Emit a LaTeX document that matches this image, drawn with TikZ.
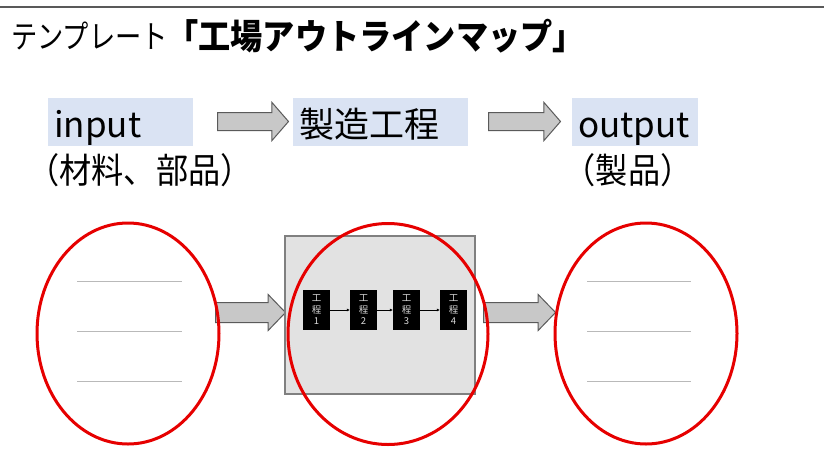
\documentclass[tikz,border=0pt]{standalone}
\usepackage{fontspec}
\setmainfont{Noto Sans CJK JP}
\usetikzlibrary{shapes.geometric,shapes.arrows,arrows.meta,positioning}
\definecolor{azulclaro}{HTML}{DAE3F3}
\definecolor{rojo}{HTML}{E60000}
\definecolor{grisflecha}{HTML}{C8C8C8}
\definecolor{grisborde}{HTML}{5A5A5A}
\definecolor{grisfondo}{HTML}{E2E2E2}
\tikzset{
  etiqueta/.style={fill=azulclaro, anchor=north west, inner xsep=6pt, inner ysep=6pt,
    text height=33pt, text depth=3pt, align=left, font=\fontsize{35}{40}\selectfont},
  flecha/.style={single arrow, draw=grisborde, fill=grisflecha, line width=1pt,
    inner xsep=0pt, anchor=west},
  circulo/.style={ellipse, draw=rojo, line width=3pt, minimum height=221pt, inner sep=0pt},
  paso/.style={fill=black, text=white!85!black, minimum width=27pt, minimum height=40pt,
    inner sep=0pt, align=center, font=\fontsize{9.5}{11.5}\selectfont},
  renglon/.style={draw=gray!55, line width=0.8pt}
}
\begin{document}
\begin{tikzpicture}[x=1pt, y=-1pt]
  \useasboundingbox (0,0) rectangle (824,469);

  % Linea superior y titulo
  \draw[line width=2pt, black!65] (0,7) -- (824,7);
  \node (plantilla) [anchor=base west, inner sep=0pt, font=\fontsize{32}{34}\selectfont] at (11,48) {\scalebox{0.82}[1]{テンプレート}};
  \node (titulo) [anchor=base west, inner sep=0pt, font=\fontsize{35}{38}\selectfont\bfseries] at (166,49) {\scalebox{0.92}[1]{「工場アウトラインマップ」}};

  % Etiquetas input / proceso / output
  \node (entrada) [etiqueta, text width=133pt] at (48,98) {input};
  \node (proceso) [etiqueta, text width=163pt] at (293,98) {製造工程};
  \node (salida) [etiqueta, text width=114pt] at (572,98) {output};
  \node (entradasub) [anchor=base, inner sep=0pt, font=\fontsize{35}{40}\selectfont] at (140,183) {\scalebox{0.92}[1]{（材料、部品）}};
  \node (salidasub) [anchor=base, inner sep=0pt, font=\fontsize{35}{40}\selectfont] at (628,183) {\scalebox{0.92}[1]{（製品）}};

  % Flechas de arriba
  \node (flechaA) [flecha, minimum height=71pt, inner ysep=8.5pt, single arrow head extend=10pt, single arrow tip angle=98] at (217,121.5) {};
  \node (flechaB) [flecha, minimum height=72pt, inner ysep=8.5pt, single arrow head extend=10pt, single arrow tip angle=98] at (488,121.5) {};

  % Flechas de abajo
  \node (flechaC) [flecha, minimum height=70pt, inner ysep=9.5pt, single arrow head extend=8pt, single arrow tip angle=92] at (215,312.5) {};
  \node (flechaD) [flecha, minimum height=72pt, inner ysep=9.5pt, single arrow head extend=8pt, single arrow tip angle=92] at (483,312.5) {};

  % Caja gris con los pasos
  \node (caja) [draw=black!50, fill=grisfondo, line width=1.2pt, minimum width=190pt, minimum height=158pt] at (380,315) {};
  \node (p1) [paso] at (316.5,310) {工\\程\\1};
  \node (p2) [paso] at (363.5,310) {工\\程\\2};
  \node (p3) [paso] at (406.5,310) {工\\程\\3};
  \node (p4) [paso] at (453.5,310) {工\\程\\4};
  \draw[-{Latex[length=3pt,width=3pt]}, line width=0.6pt] (p1) -- (p2);
  \draw[-{Latex[length=3pt,width=3pt]}, line width=0.6pt] (p2) -- (p3);
  \draw[-{Latex[length=3pt,width=3pt]}, line width=0.6pt] (p3) -- (p4);

  % Circulos rojos
  \node (circA) [circulo, minimum width=182pt] at (128,333.5) {};
  \node (circB) [circulo, minimum width=200pt] at (388,334) {};
  \node (circC) [circulo, minimum width=182pt] at (646,333.5) {};

  % Renglones
  \foreach \y in {281,331,381} {
    \draw[renglon] (77,\y) -- (182,\y);
    \draw[renglon] (587,\y) -- (691,\y);
  }
\end{tikzpicture}
\end{document}
